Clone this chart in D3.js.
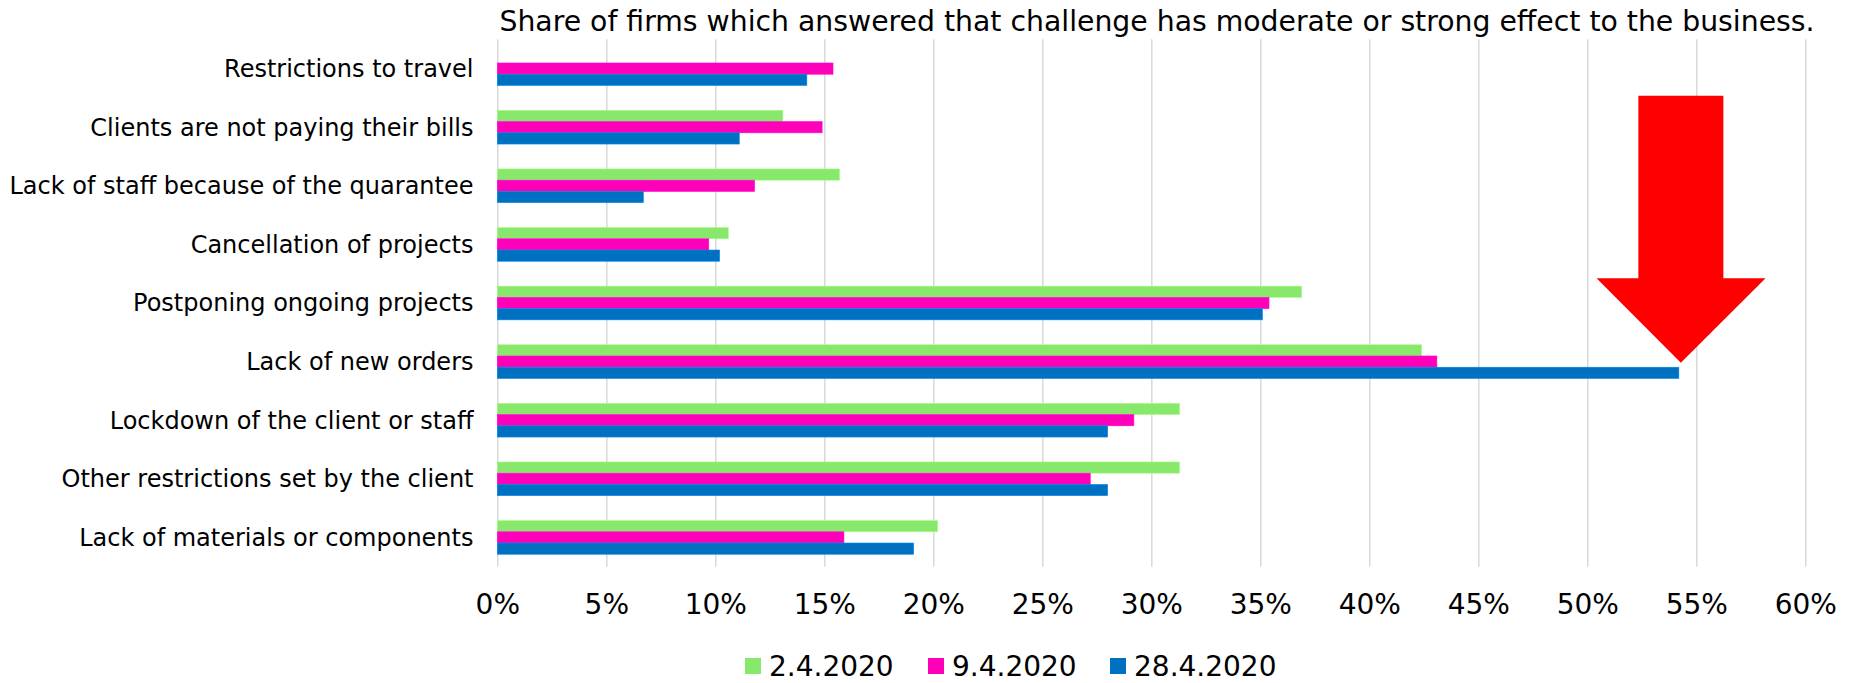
<!DOCTYPE html>
<html>
<head>
<meta charset="utf-8">
<script src="https://cdn.jsdelivr.net/npm/d3@7"></script>
<style>
  body { margin: 0; background: #fff; }
  text { font-family: "DejaVu Sans", Verdana, sans-serif; fill: #000; }
</style>
</head>
<body>
<div id="chart"></div>
<script>
// Share of firms: challenge has moderate or strong effect

var categories = [
  "Restrictions to travel",
  "Clients are not paying their bills",
  "Lack of staff because of the quarantee",
  "Cancellation of projects",
  "Postponing ongoing projects",
  "Lack of new orders",
  "Lockdown of the client or staff",
  "Other restrictions set by the client",
  "Lack of materials or components"
];
var seriesNames = ["2.4.2020", "9.4.2020", "28.4.2020"];
var seriesColors = ["#87e86b", "#ff00b9", "#0070c0"];

var apr2 = [null, 0.131, 0.157, 0.106, 0.369, 0.424, 0.313, 0.313, 0.202];
var apr9 = [0.154, 0.149, 0.118, 0.097, 0.354, 0.431, 0.292, 0.272, 0.159];
var apr28 = [0.142, 0.111, 0.067, 0.102, 0.351, 0.542, 0.280, 0.280, 0.191];

var tickValues = [0, 0.05, 0.1, 0.15, 0.2, 0.25, 0.3, 0.35, 0.4, 0.45, 0.5, 0.55, 0.6];

var title = "Share of firms which answered that challenge has moderate or strong effect to the business.";

var W = 1853, H = 683;
var plot = {left: 497.3, right: 1805.3, top: 39.3, bottom: 566.7};

var svg = d3.select("#chart").append("svg")
  .attr("width", W)
  .attr("height", H);

var x = d3.scaleLinear()
  .domain([0, 0.6])
  .range([plot.left, plot.right]);

var y = d3.scaleBand()
  .domain(categories)
  .range([plot.top, plot.bottom]);

var groupH = 33.7;
var ySub = d3.scaleBand()
  .domain(seriesNames)
  .range([0, groupH]);

// gridlines + tick labels
var axis = svg.append("g")
  .attr("transform", "translate(0," + plot.bottom + ")")
  .call(d3.axisBottom(x)
    .tickValues(tickValues)
    .tickSize(-(plot.bottom - plot.top))
    .tickFormat(d3.format(".0%")));
axis.select(".domain").remove();
axis.selectAll("line")
  .attr("stroke", "#d9d9d9")
  .attr("stroke-width", 1.5);
axis.selectAll("text")
  .attr("y", 47.5)
  .attr("dy", 0)
  .style("font-size", "28px")
  .style("font-family", "DejaVu Sans, Verdana, sans-serif")
  .attr("fill", "#000");

// bars
var allSeries = [apr2, apr9, apr28];
allSeries.forEach(function(vals, si) {
  svg.append("g")
    .selectAll("rect")
    .data(vals.map(function(v, i) { return {cat: categories[i], value: v}; })
      .filter(function(d) { return d.value != null; }))
    .enter()
    .append("rect")
      .attr("x", x(0))
      .attr("y", function(d) {
        return y(d.cat) + (y.bandwidth() - groupH) / 2 + ySub(seriesNames[si]);
      })
      .attr("width", function(d) { return x(d.value) - x(0); })
      .attr("height", ySub.bandwidth())
      .attr("fill", seriesColors[si])
      .attr("stroke", d3.color(seriesColors[si]).brighter(0.6))
      .attr("stroke-width", 0.6);
});

// category labels
svg.append("g")
  .selectAll("text")
  .data(categories)
  .enter()
  .append("text")
    .attr("x", 473.5)
    .attr("y", function(d) { return y(d) + y.bandwidth() / 2; })
    .attr("dy", "0.35em")
    .attr("text-anchor", "end")
    .style("font-size", "24px")
    .text(function(d) { return d; });

// title
svg.append("text")
  .attr("x", 1157)
  .attr("y", 31)
  .attr("text-anchor", "middle")
  .style("font-size", "28.3px")
  .text(title);

// red arrow pointing at the last value
var arrowX = x(apr28[5]) + 2;
var arrow = [
  [arrowX - 42.5, 95.7], [arrowX + 42.5, 95.7], [arrowX + 42.5, 278.3],
  [arrowX + 84.7, 278.3], [arrowX, 362.7], [arrowX - 84.3, 278.3],
  [arrowX - 42.5, 278.3]
];
svg.append("path")
  .attr("d", d3.line()(arrow) + "Z")
  .attr("fill", "#ff0000");

// legend
var legendX = [745, 928, 1110];
var legend = svg.selectAll(".legend")
  .data(seriesNames)
  .enter()
  .append("g")
    .attr("class", "legend")
    .attr("transform", function(d, i) { return "translate(" + legendX[i] + ",658)"; });

legend.append("rect")
  .attr("width", 16)
  .attr("height", 16)
  .attr("fill", function(d, i) { return seriesColors[i]; });

legend.append("text")
  .attr("x", 24)
  .attr("y", 18)
  .style("font-size", "28px")
  .text(function(d) { return d; });
</script>
</body>
</html>
